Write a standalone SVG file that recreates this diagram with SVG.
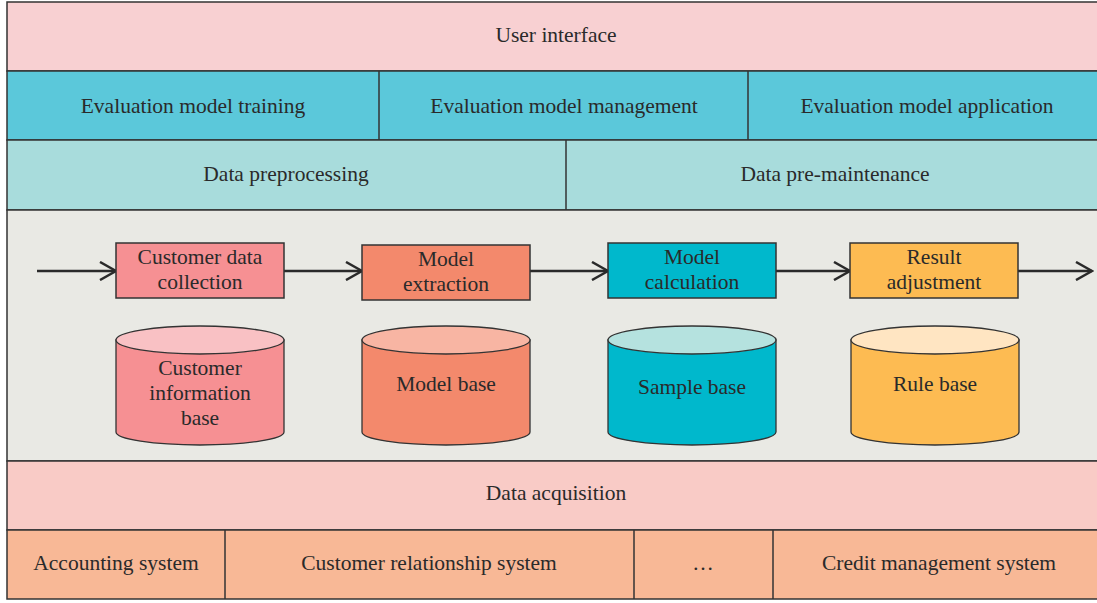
<svg xmlns="http://www.w3.org/2000/svg" width="1097" height="603" viewBox="0 0 1097 603">
  <defs>
    <style>
      .band { stroke: #333; stroke-width: 1.5; }
      .div { stroke: #333; stroke-width: 1.5; }
      .box { stroke: #333; stroke-width: 1.5; }
      .cyl { stroke: #333; stroke-width: 1.3; }
      .t { font-family: "Liberation Serif", "Times New Roman", serif; font-size: 21.5px; fill: #2a2a2a; text-anchor: middle; }
      .flow { stroke: #2a2a2a; stroke-width: 2.5; fill: none; }
    </style>
    <marker id="chev" viewBox="0 0 20 20" refX="18" refY="10" markerWidth="20" markerHeight="20" markerUnits="userSpaceOnUse" orient="auto">
      <path d="M2,1 L18,10 L2,19" fill="none" stroke="#2a2a2a" stroke-width="2.5"/>
    </marker>
  </defs>

  <!-- Top layers -->
  <g id="user-interface">
    <rect class="band" x="7" y="2" width="1100" height="69" fill="#F8D0D2"/>
    <text class="t" x="556" y="42">User interface</text>
  </g>
  <g id="evaluation-layer">
    <rect class="band" x="7" y="71" width="1100" height="69" fill="#5BC8DA"/>
    <line class="div" x1="379" y1="71" x2="379" y2="140"/>
    <line class="div" x1="748" y1="71" x2="748" y2="140"/>
    <text class="t" x="193" y="113">Evaluation model training</text>
    <text class="t" x="564" y="113">Evaluation model management</text>
    <text class="t" x="927" y="113">Evaluation model application</text>
  </g>
  <g id="data-layer">
    <rect class="band" x="7" y="140" width="1100" height="70" fill="#A8DCDC"/>
    <line class="div" x1="566" y1="140" x2="566" y2="210"/>
    <text class="t" x="286" y="181">Data preprocessing</text>
    <text class="t" x="835" y="181">Data pre-maintenance</text>
  </g>

  <!-- Processing area -->
  <g id="process-area">
    <rect class="band" x="7" y="210" width="1100" height="251" fill="#E9E9E4"/>
  </g>

  <!-- Flow connectors -->
  <g id="connectors">
    <line class="flow" x1="37" y1="271" x2="116" y2="271" marker-end="url(#chev)"/>
    <line class="flow" x1="284" y1="271" x2="362" y2="271" marker-end="url(#chev)"/>
    <line class="flow" x1="530" y1="271" x2="608" y2="271" marker-end="url(#chev)"/>
    <line class="flow" x1="776" y1="271" x2="850" y2="271" marker-end="url(#chev)"/>
    <line class="flow" x1="1018" y1="271" x2="1092" y2="271" marker-end="url(#chev)"/>
  </g>

  <!-- Process steps -->
  <g id="customer-data-collection">
    <rect class="box" x="116" y="243" width="168" height="55" fill="#F69093"/>
    <text class="t" x="200" y="264">Customer data</text>
    <text class="t" x="200" y="289">collection</text>
  </g>
  <g id="model-extraction">
    <rect class="box" x="362" y="245" width="168" height="55" fill="#F3896C"/>
    <text class="t" x="446" y="266">Model</text>
    <text class="t" x="446" y="291">extraction</text>
  </g>
  <g id="model-calculation">
    <rect class="box" x="608" y="243" width="168" height="55" fill="#00B8CC"/>
    <text class="t" x="692" y="264">Model</text>
    <text class="t" x="692" y="289">calculation</text>
  </g>
  <g id="result-adjustment">
    <rect class="box" x="850" y="243" width="168" height="55" fill="#FDBB52"/>
    <text class="t" x="934" y="264">Result</text>
    <text class="t" x="934" y="289">adjustment</text>
  </g>

  <!-- Databases -->
  <g id="customer-information-base">
    <path class="cyl" d="M116,340 L116,432 A84,13 0 0 0 284,432 L284,340 Z" fill="#F69093"/>
    <ellipse class="cyl" cx="200" cy="340" rx="84" ry="14" fill="#F9C1C4"/>
    <text class="t" x="200" y="375">Customer</text>
    <text class="t" x="200" y="400">information</text>
    <text class="t" x="200" y="425">base</text>
  </g>
  <g id="model-base">
    <path class="cyl" d="M362,340 L362,432 A84,13 0 0 0 530,432 L530,340 Z" fill="#F3896C"/>
    <ellipse class="cyl" cx="446" cy="340" rx="84" ry="14" fill="#F8B5A3"/>
    <text class="t" x="446" y="391">Model base</text>
  </g>
  <g id="sample-base">
    <path class="cyl" d="M608,340 L608,432 A84,13 0 0 0 776,432 L776,340 Z" fill="#00B8CC"/>
    <ellipse class="cyl" cx="692" cy="340" rx="84" ry="14" fill="#B5E2DF"/>
    <text class="t" x="692" y="394">Sample base</text>
  </g>
  <g id="rule-base">
    <path class="cyl" d="M851,340 L851,432 A84,13 0 0 0 1019,432 L1019,340 Z" fill="#FDBB52"/>
    <ellipse class="cyl" cx="935" cy="340" rx="84" ry="14" fill="#FFE5C2"/>
    <text class="t" x="935" y="391">Rule base</text>
  </g>

  <!-- Bottom layers -->
  <g id="data-acquisition">
    <rect class="band" x="7" y="461" width="1100" height="69" fill="#F9CBC6"/>
    <text class="t" x="556" y="500">Data acquisition</text>
  </g>
  <g id="source-systems">
    <rect class="band" x="7" y="530" width="1100" height="69" fill="#F8B896"/>
    <line class="div" x1="225" y1="530" x2="225" y2="599"/>
    <line class="div" x1="634" y1="530" x2="634" y2="599"/>
    <line class="div" x1="773" y1="530" x2="773" y2="599"/>
    <text class="t" x="116" y="570">Accounting system</text>
    <text class="t" x="429" y="570">Customer relationship system</text>
    <text class="t" x="703" y="570">…</text>
    <text class="t" x="939" y="570">Credit management system</text>
  </g>
</svg>
